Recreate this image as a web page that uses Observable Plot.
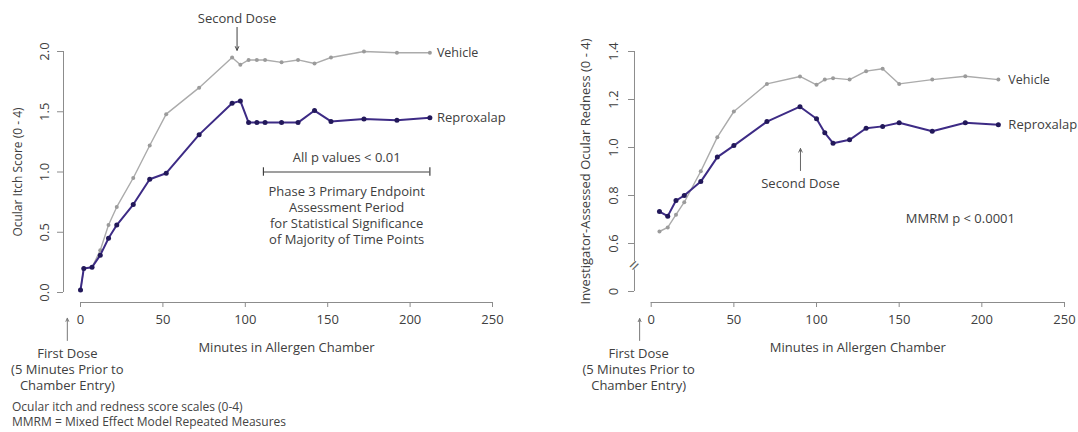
<!DOCTYPE html>
<html><head><meta charset="utf-8">
<script src="https://cdn.jsdelivr.net/npm/d3@7"></script>
<script src="https://cdn.jsdelivr.net/npm/@observablehq/plot@0.6"></script>
<style>
body{margin:0;background:#fff;font-family:"Open Sans",sans-serif;}
#wrap{position:relative;width:1078px;height:432px;overflow:hidden;background:#fff;}
#left,#right{position:absolute;top:0;}
#left{left:0}#right{left:539px}
.note{position:absolute;left:12px;font-size:12px;color:#444;line-height:15px;white-space:nowrap;}
</style></head><body>
<div id="wrap"><div id="left"></div><div id="right"></div>
<div class="note" style="top:399px">Ocular itch and redness score scales (0-4)<br>MMRM = Mixed Effect Model Repeated Measures</div>
</div>
<script>
// ---- data ----
const seriesNames = ["Vehicle", "Reproxalap"];
const xTicks = [0, 50, 100, 150, 200, 250];

const itchTime = [0, 2, 7, 12, 17, 22, 32, 42, 52, 72, 92, 97, 102, 107, 112, 122, 132, 142, 152, 172, 192, 212];
const itchVehicle = [0.02, 0.20, 0.21, 0.35, 0.56, 0.71, 0.95, 1.22, 1.48, 1.70, 1.95, 1.89, 1.93, 1.93, 1.93, 1.91, 1.93, 1.90, 1.95, 2.00, 1.99, 1.99];
const itchReproxalap = [0.02, 0.20, 0.21, 0.31, 0.45, 0.56, 0.73, 0.94, 0.99, 1.31, 1.57, 1.59, 1.41, 1.41, 1.41, 1.41, 1.41, 1.51, 1.42, 1.44, 1.43, 1.45];
const itchYTicks = [0, 0.5, 1.0, 1.5, 2.0];
const itchYLabels = ["0.0", "0.5", "1.0", "1.5", "2.0"];

const rednessTime = [5, 10, 15, 20, 30, 40, 50, 70, 90, 100, 105, 110, 120, 130, 140, 150, 170, 190, 210];
const rednessVehicle = [0.650, 0.667, 0.720, 0.772, 0.901, 1.043, 1.150, 1.265, 1.296, 1.261, 1.283, 1.289, 1.283, 1.318, 1.328, 1.265, 1.283, 1.297, 1.283];
const rednessReproxalap = [0.733, 0.714, 0.779, 0.800, 0.858, 0.960, 1.008, 1.108, 1.170, 1.120, 1.061, 1.018, 1.032, 1.080, 1.088, 1.103, 1.068, 1.103, 1.095];
const rednessYTicks = [0.4, 0.6, 0.8, 1.0, 1.2, 1.4];
const rednessYLabels = ["0", "0.6", "0.8", "1.0", "1.2", "1.4"];
const rednessBreak = [0.49, 0.525];

// ---- styles ----
const lineColor = {Vehicle: "#ababab", Reproxalap: "#3d2b85"};
const dotColor = {Vehicle: "#9b9b9b", Reproxalap: "#22185a"};
const textColor = "#404040";
const axisColor = "#8c8c8c";

function rows(time, veh, rep) {
  return {
    Vehicle: time.map((t, i) => ({t, v: veh[i]})),
    Reproxalap: time.map((t, i) => ({t, v: rep[i]}))
  };
}

function seriesMarks(data, labelDx) {
  const out = [];
  for (const s of seriesNames) {
    const d = data[s];
    out.push(Plot.line(d, {x: "t", y: "v", stroke: lineColor[s], strokeWidth: s === "Vehicle" ? 1.4 : 2}));
    out.push(Plot.dot(d, {x: "t", y: "v", fill: dotColor[s], r: s === "Vehicle" ? 2 : 2.5}));
    out.push(Plot.text(d, Plot.selectLast({x: "t", y: "v", text: () => s, textAnchor: "start", dx: labelDx, fill: textColor, fontSize: s === "Vehicle" ? 12.5 : 13})));
  }
  return out;
}

function axisMarks({yTicks, yLabels, yDomain, yLabel, yLabelDx, yLabelSize, tickLabelDx, insetLeft, insetBottom, ySegments}) {
  const marks = [];
  // x axis line (R-style, spanning ticks)
  marks.push(Plot.ruleY([yDomain[0]], {x1: xTicks[0], x2: xTicks[xTicks.length - 1], dy: insetBottom, stroke: axisColor}));
  marks.push(Plot.axisX({ticks: xTicks, tickSize: 5, tickPadding: 7, label: null, stroke: axisColor, fill: textColor, fontSize: 13}));
  // y axis line
  marks.push(Plot.ruleX(ySegments, {x: () => xTicks[0], y1: d => d[0], y2: d => d[1], dx: -insetLeft, stroke: axisColor}));
  marks.push(Plot.axisY({ticks: yTicks, tickSize: 6, tickFormat: () => "", label: null, stroke: axisColor}));
  marks.push(Plot.text(yTicks, {y: d => d, frameAnchor: "left", dx: tickLabelDx, rotate: -90, textAnchor: "middle", lineAnchor: "middle", text: (d, i) => yLabels[i], fill: textColor, fontSize: 13}));
  marks.push(Plot.text([yLabel], {y: () => (yDomain[0] + yDomain[1]) / 2, frameAnchor: "left", dx: yLabelDx, rotate: -90, textAnchor: "middle", lineAnchor: "middle", fill: textColor, fontSize: yLabelSize}));
  marks.push(Plot.text(["Minutes in Allergen Chamber"], {x: () => (xTicks[0] + xTicks[xTicks.length - 1]) / 2, frameAnchor: "bottom", dy: 45, lineAnchor: "middle", fill: textColor, fontSize: 13}));
  return marks;
}

const common = {
  width: 539, height: 432, marginTop: 51, marginBottom: 130,
  style: {fontFamily: "Open Sans, sans-serif", fontSize: "13px", color: textColor, background: "transparent", overflow: "visible"}
};

const firstDose = "First Dose\n(5 Minutes Prior to\nChamber Entry)";

// ---- left chart: ocular itch ----
const itchData = rows(itchTime, itchVehicle, itchReproxalap);
const itchDomain = [0, 2];
const left = Plot.plot({
  ...common,
  marginLeft: 63, marginRight: 47,
  x: {domain: [0, 250], insetLeft: 17, axis: null},
  y: {domain: itchDomain, insetBottom: 10, axis: null},
  marks: [
    ...axisMarks({yTicks: itchYTicks, yLabels: itchYLabels, yDomain: itchDomain, yLabel: "Ocular Itch Score (0 - 4)", yLabelDx: -45, yLabelSize: 12, tickLabelDx: -19, insetLeft: 17, insetBottom: 10, ySegments: [[itchYTicks[0], itchYTicks[itchYTicks.length - 1]]]}),
    ...seriesMarks(itchData, 7),
    Plot.text(["Second Dose"], {x: 95, y: 2.274, fill: textColor, fontSize: 13}),
    Plot.arrow([0], {x1: 95, x2: 95, y1: 2.2, y2: 2.01, stroke: textColor, strokeWidth: 1, headLength: 6, headAngle: 50}),
    Plot.ruleY([1.0], {x1: 111, x2: 212, stroke: textColor, strokeWidth: 1.2}),
    Plot.ruleX([111, 212], {y1: 0.965, y2: 1.035, stroke: textColor, strokeWidth: 1.2}),
    Plot.text(["All p values < 0.01"], {x: 161.5, y: 1.12, fill: textColor, fontSize: 13}),
    Plot.text(["Phase 3 Primary Endpoint\nAssessment Period\nfor Statistical Significance\nof Majority of Time Points"], {x: 161.5, y: 0.642, lineHeight: 1.23, fill: textColor, fontSize: 13}),
    Plot.arrow([0], {x1: -8, x2: -8, y1: -0.398, y2: -0.214, stroke: "#777", strokeWidth: 1, headLength: 5, headAngle: 50}),
    Plot.text([firstDose], {x: -8, y: -0.63, lineHeight: 1.23, fill: textColor, fontSize: 13})
  ]
});
document.getElementById("left").append(left);

// ---- right chart: ocular redness ----
const rednessData = rows(rednessTime, rednessVehicle, rednessReproxalap);
const rednessDomain = [0.4, 1.4];
const right = Plot.plot({
  ...common,
  marginLeft: 95, marginRight: 14,
  x: {domain: [0, 250], insetLeft: 16.7, axis: null},
  y: {domain: rednessDomain, insetBottom: 11, axis: null},
  marks: [
    ...axisMarks({yTicks: rednessYTicks, yLabels: rednessYLabels, yDomain: rednessDomain, yLabel: "Investigator-Assessed Ocular Redness (0 - 4)", yLabelDx: -49, yLabelSize: 13, tickLabelDx: -21, insetLeft: 16.7, insetBottom: 11,
      ySegments: [[rednessYTicks[0], rednessBreak[0]], [rednessBreak[1], rednessYTicks[rednessYTicks.length - 1]]]}),
    Plot.text([(rednessBreak[0] + rednessBreak[1]) / 2], {x: 0, y: d => d, dx: -16.7, text: () => "=", rotate: -45, fill: "#666", fontSize: 18}),
    ...seriesMarks(rednessData, 10),
    Plot.text(["Second Dose"], {x: 90.3, y: 0.85, fill: textColor, fontSize: 13}),
    Plot.arrow([0], {x1: 90.3, x2: 90.3, y1: 0.904, y2: 0.996, stroke: "#666", strokeWidth: 1, headLength: 6, headAngle: 50}),
    Plot.text(["MMRM p < 0.0001"], {x: 187, y: 0.704, fill: textColor, fontSize: 13}),
    Plot.arrow([0], {x1: -7, x2: -7, y1: 0.196, y2: 0.287, stroke: "#777", strokeWidth: 1, headLength: 5, headAngle: 50}),
    Plot.text([firstDose], {x: -7.6, y: 0.079, lineHeight: 1.23, fill: textColor, fontSize: 13})
  ]
});
document.getElementById("right").append(right);
</script>
</body></html>
